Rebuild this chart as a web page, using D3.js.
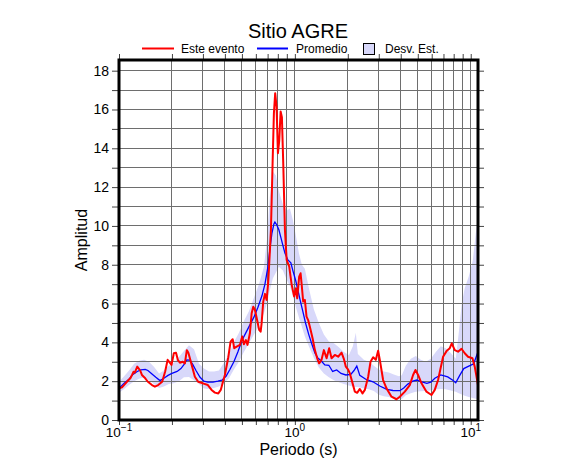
<!DOCTYPE html>
<html>
<head>
<meta charset="utf-8">
<script src="https://cdn.jsdelivr.net/npm/d3@7"></script>
<style>
  body { margin: 0; background: #fff; }
  svg { display: block; font-family: "Liberation Sans", Arial, Helvetica, sans-serif; }
</style>
</head>
<body>
<div id="chart"></div>
<script>
// Promedio (mean spectral ratio)
const meanPeriod = [
  0.100, 0.107, 0.114, 0.120, 0.127, 0.133, 0.141, 0.146, 0.154, 0.162,
  0.171, 0.180, 0.190, 0.200, 0.214, 0.225, 0.234, 0.243, 0.253, 0.263,
  0.274, 0.289, 0.304, 0.320, 0.342, 0.365, 0.385, 0.406, 0.427, 0.450,
  0.474, 0.500, 0.527, 0.555, 0.585, 0.616, 0.650, 0.676, 0.703, 0.721,
  0.740, 0.760, 0.770, 0.790, 0.811, 0.833, 0.855, 0.878, 0.913, 0.949,
  0.974, 1.01, 1.04, 1.07, 1.11, 1.15, 1.20, 1.25, 1.30, 1.35,
  1.41, 1.48, 1.56, 1.64, 1.73, 1.83, 1.95, 2.08, 2.17, 2.25,
  2.34, 2.53, 2.78, 3.04, 3.33, 3.61, 3.95, 4.16, 4.39, 4.68,
  4.94, 5.27, 5.63, 5.93, 6.25, 6.76, 7.40, 7.91, 8.22, 8.66,
  9.13, 9.75, 10.4, 11.0
];
const meanAmp = [
  1.63, 1.9, 2.1, 2.35, 2.5, 2.58, 2.61, 2.55, 2.37, 2.2,
  2.03, 2.15, 2.3, 2.4, 2.5, 2.65, 2.85, 3.1, 3.08, 2.85,
  2.55, 2.2, 2.0, 1.95, 1.95, 2.0, 2.05, 2.25, 2.6, 3.0,
  3.5, 4.1, 4.5, 4.9, 5.3, 5.8, 6.4, 7.0, 7.9, 8.8,
  9.6, 10.1, 10.2, 10.05, 9.8, 9.4, 9.0, 8.6, 8.25, 8.1,
  7.7, 7.2, 6.7, 6.2, 5.6, 5.0, 4.4, 3.9, 3.45, 3.2,
  3.05, 2.84, 2.82, 2.5, 2.58, 2.4, 2.32, 2.35, 2.55, 2.78,
  2.3, 2.1, 1.97, 1.75, 1.58, 1.52, 1.51, 1.65, 1.85, 2.0,
  2.06, 1.97, 1.89, 1.95, 2.15, 2.32, 2.22, 2.05, 1.92, 2.3,
  2.65, 2.78, 2.9, 3.52
];

// Este evento
const eventPeriod = [
  0.100, 0.104, 0.108, 0.113, 0.116, 0.119, 0.121, 0.123, 0.127, 0.132,
  0.135, 0.141, 0.146, 0.154, 0.160, 0.167, 0.176, 0.183, 0.189, 0.193,
  0.199, 0.205, 0.211, 0.216, 0.222, 0.230, 0.237, 0.243, 0.248, 0.259,
  0.270, 0.282, 0.300, 0.320, 0.336, 0.351, 0.367, 0.379, 0.388, 0.400,
  0.418, 0.431, 0.443, 0.452, 0.467, 0.487, 0.502, 0.513, 0.527, 0.538,
  0.555, 0.568, 0.580, 0.593, 0.610, 0.627, 0.639, 0.647, 0.661, 0.676,
  0.691, 0.705, 0.721, 0.731, 0.747, 0.760, 0.773, 0.787, 0.801, 0.815,
  0.830, 0.844, 0.859, 0.878, 0.898, 0.929, 0.958, 0.978, 0.991, 1.014,
  1.031, 1.058, 1.078, 1.096, 1.115, 1.14, 1.165, 1.19, 1.217, 1.261,
  1.30, 1.34, 1.374, 1.418, 1.462, 1.515, 1.567, 1.617, 1.688, 1.762,
  1.843, 1.899, 1.949, 2.009, 2.055, 2.128, 2.194, 2.26, 2.342, 2.425,
  2.50, 2.612, 2.693, 2.788, 2.887, 2.975, 3.042, 3.176, 3.32, 3.545,
  3.784, 3.951, 4.219, 4.504, 4.702, 4.853, 5.02, 5.25, 5.604, 5.983,
  6.246, 6.521, 6.963, 7.286, 7.601, 7.802, 8.115, 8.472, 8.862, 9.248,
  9.655, 10.23, 10.54, 11.0
];
const eventAmp = [
  1.63, 1.68, 1.85, 2.05, 2.15, 2.35, 2.49, 2.44, 2.75, 2.55,
  2.32, 2.15, 1.97, 1.8, 1.72, 1.8, 1.97, 2.5, 3.1, 3.0,
  2.84, 3.44, 3.47, 3.1, 2.95, 3.0, 2.92, 3.6, 3.47, 2.84,
  2.23, 1.97, 1.89, 1.8, 1.55, 1.41, 1.37, 1.55, 1.89, 2.32,
  3.22, 4.04, 4.16, 3.7, 3.78, 3.87, 4.3, 3.9, 4.12, 3.87,
  4.47, 5.5, 5.84, 5.67, 5.15, 4.64, 4.55, 4.98, 6.1, 6.5,
  6.19, 7.05, 8.7, 9.8, 13.2, 15.8, 16.84, 16.15, 13.75, 14.4,
  15.9, 15.6, 13.2, 9.8, 8.25, 7.9, 7.0, 6.6, 6.36, 6.79,
  6.27, 7.39, 7.56, 6.87, 6.1, 6.19, 5.33, 5.15, 4.81, 4.21,
  3.6, 3.18, 2.92, 3.1, 3.6, 3.18, 3.7, 3.18, 3.35, 3.26,
  3.47, 3.15, 2.75, 2.6, 2.4, 1.9, 1.46, 1.4, 1.6, 1.37,
  1.55, 2.23, 3.0, 3.23, 3.1, 3.57, 3.1, 2.06, 1.63, 1.2,
  1.07, 1.2, 1.46, 1.8, 2.32, 2.58, 2.32, 1.89, 1.46, 1.29,
  1.55, 2.06, 3.26, 3.55, 3.7, 3.95, 3.6, 3.52, 3.67, 3.44,
  3.26, 3.18, 2.75, 1.8
];

// Desv. Est. band
const bandPeriod = [
  0.100, 0.107, 0.114, 0.122, 0.130, 0.139, 0.148, 0.158, 0.169, 0.180,
  0.192, 0.205, 0.219, 0.234, 0.250, 0.267, 0.285, 0.304, 0.325, 0.347,
  0.370, 0.395, 0.422, 0.450, 0.481, 0.513, 0.548, 0.585, 0.625, 0.667,
  0.694, 0.721, 0.750, 0.780, 0.811, 0.855, 0.901, 0.937, 0.974, 1.014,
  1.054, 1.096, 1.14, 1.201, 1.283, 1.369, 1.462, 1.561, 1.666, 1.779,
  1.899, 2.028, 2.137, 2.222, 2.281, 2.467, 2.634, 2.812, 3.002, 3.205,
  3.422, 3.653, 3.90, 4.056, 4.274, 4.563, 4.872, 5.201, 5.553, 5.928,
  6.329, 6.757, 7.213, 7.701, 8.221, 8.55, 8.892, 9.248, 9.745, 10.27,
  10.68, 11.0
];
const bandUpper = [
  1.97, 2.25, 2.55, 2.9, 3.05, 3.1, 3.0, 2.75, 2.4, 2.55,
  2.8, 2.95, 3.25, 3.55, 3.85, 3.65, 2.9, 2.65, 2.5, 2.5,
  2.55, 2.95, 3.4, 4.0, 4.5, 5.1, 5.6, 6.3, 7.0, 7.9,
  9.3, 11.5, 12.8, 12.6, 11.8, 11.1, 10.8, 10.9, 10.3, 9.5,
  8.6, 8.0, 7.8, 6.8, 5.7, 5.0, 4.4, 4.05, 3.95, 3.75,
  3.5, 3.35, 3.8, 4.5, 3.4, 3.1, 3.0, 2.8, 2.6, 2.5,
  2.45, 2.35, 2.25, 2.3, 2.8, 3.15, 3.3, 3.1, 3.0, 3.15,
  3.5, 3.8, 3.7, 3.45, 3.15, 4.5, 6.0, 6.8, 7.4, 8.2,
  9.6, 10.5
];
const bandLower = [
  1.4, 1.6, 1.8, 2.0, 2.12, 2.2, 2.05, 1.85, 1.65, 1.72,
  1.85, 1.9, 2.0, 2.2, 2.22, 2.05, 1.85, 1.62, 1.6, 1.65,
  1.72, 1.88, 2.15, 2.6, 3.0, 3.5, 3.95, 4.4, 4.85, 5.5,
  6.0, 6.7, 7.3, 7.6, 7.9, 7.7, 7.2, 6.9, 6.4, 5.8,
  5.3, 4.8, 4.3, 3.8, 3.2, 2.7, 2.4, 2.2, 2.05, 1.95,
  1.85, 1.78, 1.72, 1.7, 1.7, 1.62, 1.58, 1.5, 1.3, 1.22,
  1.18, 1.1, 1.05, 1.08, 1.28, 1.38, 1.45, 1.48, 1.5, 1.52,
  1.57, 1.6, 1.58, 1.52, 1.45, 1.38, 1.32, 1.25, 1.18, 1.13,
  1.1, 1.08
];

const xDomain = [0.1, 11];
const yDomain = [0, 18.55];
const yTickValues = d3.range(0, 19);
const xLabelDecades = [[0.1, '\u22121'], [1, '0'], [10, '1']];

const W = 586, H = 475;
const m = { t: 60, r: 108, b: 55, l: 119 };

const svg = d3.select('#chart').append('svg').attr('width', W).attr('height', H);
const x = d3.scaleLog().domain(xDomain).range([m.l, W - m.r]);
const y = d3.scaleLinear().domain(yDomain).range([H - m.b, m.t]);

svg.append('clipPath').attr('id', 'plotclip').append('rect')
  .attr('x', m.l).attr('y', m.t).attr('width', W - m.r - m.l).attr('height', H - m.b - m.t);

const plot = svg.append('g').attr('clip-path', 'url(#plotclip)');

// std band
const band = bandPeriod.map((p, i) => ({ p, hi: bandUpper[i], lo: bandLower[i] }));
plot.append('path').datum(band)
  .attr('fill', '#d8d8fa')
  .attr('d', d3.area().x(d => x(d.p)).y0(d => y(d.lo)).y1(d => y(d.hi)));

// grid
const xTicks = x.ticks().filter(t => t >= xDomain[0] && t <= xDomain[1]);
plot.append('g').selectAll('line').data(xTicks).join('line')
  .attr('x1', d => x(d)).attr('x2', d => x(d)).attr('y1', m.t).attr('y2', H - m.b)
  .attr('stroke', '#6e6e6e').attr('stroke-width', 1).attr('shape-rendering', 'crispEdges');
plot.append('g').selectAll('line').data(yTickValues.slice(1)).join('line')
  .attr('x1', m.l).attr('x2', W - m.r).attr('y1', d => y(d)).attr('y2', d => y(d))
  .attr('stroke', '#6e6e6e').attr('stroke-width', 1).attr('shape-rendering', 'crispEdges');

// curves
const line = d3.line().x(d => x(d[0])).y(d => y(d[1]));
plot.append('path').datum(meanPeriod.map((p, i) => [p, meanAmp[i]]))
  .attr('fill', 'none').attr('stroke', '#0000ff').attr('stroke-width', 1.3).attr('d', line);
plot.append('path').datum(eventPeriod.map((p, i) => [p, eventAmp[i]]))
  .attr('fill', 'none').attr('stroke', '#ff0000').attr('stroke-width', 2).attr('stroke-linejoin', 'round').attr('d', line);

// axes ticks
const tickStyle = g => {
  g.select('.domain').remove();
  g.selectAll('.tick line').attr('stroke', '#444');
  g.selectAll('.tick text').attr('font-size', 14).attr('fill', '#000')
    .attr('font-family', '"Liberation Sans", Arial, sans-serif');
};
svg.append('g').attr('transform', `translate(${m.l},0)`)
  .call(d3.axisLeft(y).tickValues(yTickValues).tickSize(7).tickPadding(3)
    .tickFormat(d => d % 2 === 0 ? d : ''))
  .call(tickStyle);
svg.append('g').attr('transform', `translate(${W - m.r},0)`)
  .call(d3.axisRight(y).tickValues(yTickValues).tickSize(6).tickFormat(''))
  .call(tickStyle);
svg.append('g').attr('transform', `translate(0,${m.t})`)
  .call(d3.axisTop(x).tickValues(xTicks).tickSize(6).tickFormat(''))
  .call(tickStyle);
svg.append('g').attr('transform', `translate(0,${H - m.b})`)
  .call(d3.axisBottom(x).tickValues(xTicks).tickSize(5).tickFormat(''))
  .call(tickStyle);

// decade labels 10^n
const xl = svg.append('g').selectAll('text').data(xLabelDecades).join('text')
  .attr('x', d => x(d[0])).attr('y', H - m.b + 17)
  .attr('text-anchor', 'middle').attr('font-size', 13.5);
xl.append('tspan').text('10');
xl.append('tspan').attr('dy', -6).attr('font-size', 10).text(d => d[1]);

// frame
svg.append('rect').attr('x', m.l).attr('y', m.t)
  .attr('width', W - m.r - m.l).attr('height', H - m.b - m.t)
  .attr('fill', 'none').attr('stroke', '#000').attr('stroke-width', 3);

// axis titles
svg.append('text').attr('x', (m.l + W - m.r) / 2).attr('y', 455)
  .attr('text-anchor', 'middle').attr('font-size', 16).text('Periodo (s)');
svg.append('text').attr('transform', `translate(87,240) rotate(-90)`)
  .attr('text-anchor', 'middle').attr('font-size', 16).text('Amplitud');

// title
svg.append('text').attr('x', 298).attr('y', 38)
  .attr('text-anchor', 'middle').attr('font-size', 20).text('Sitio AGRE');

// legend
const lg = svg.append('g').attr('font-size', 12);
lg.append('line').attr('x1', 142).attr('x2', 174).attr('y1', 48.5).attr('y2', 48.5)
  .attr('stroke', '#ff0000').attr('stroke-width', 2);
lg.append('text').attr('x', 181).attr('y', 53).text('Este evento');
lg.append('line').attr('x1', 257).attr('x2', 288).attr('y1', 48.5).attr('y2', 48.5)
  .attr('stroke', '#0000ff').attr('stroke-width', 2);
lg.append('text').attr('x', 296).attr('y', 53).text('Promedio');
lg.append('rect').attr('x', 363.5).attr('y', 43.5).attr('width', 11).attr('height', 11)
  .attr('fill', '#d8d8fa').attr('stroke', '#000').attr('stroke-width', 1);
lg.append('text').attr('x', 385).attr('y', 53).text('Desv. Est.');
</script>
</body>
</html>
